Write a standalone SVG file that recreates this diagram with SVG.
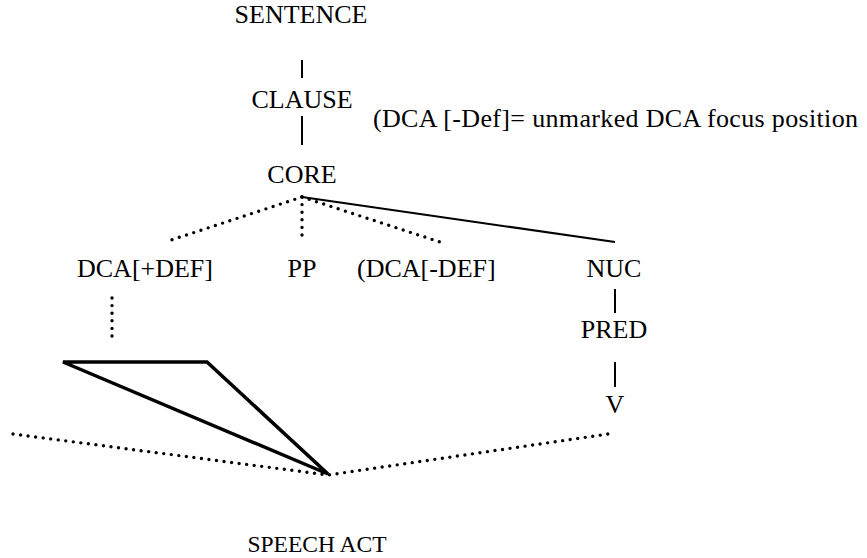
<svg xmlns="http://www.w3.org/2000/svg" width="867" height="558" viewBox="0 0 867 558">
  <style>
    text { font-family: "Liberation Serif", "Times New Roman", serif; font-size: 26px; fill: #000; }
    .c { text-anchor: middle; }
    .solid { stroke: #000; stroke-width: 2; fill: none; }
    .dot { stroke: #000; stroke-width: 3.4; fill: none; stroke-linecap: round; stroke-dasharray: 0 7.6; }
    .tri { stroke: #000; stroke-width: 3.5; fill: none; stroke-linejoin: miter; }
  </style>
  <rect width="867" height="558" fill="#fff"/>

  <!-- connectors -->
  <g id="connectors">
    <line class="solid" x1="302" y1="60" x2="302" y2="78"/>
    <line class="solid" x1="302" y1="116" x2="302" y2="145"/>
    <line class="dot" x1="302" y1="197" x2="165" y2="242"/>
    <line class="dot" x1="302" y1="197" x2="302" y2="237"/>
    <line class="dot" x1="302" y1="197" x2="440" y2="242"/>
    <line class="solid" x1="302" y1="197" x2="615" y2="242"/>
    <line class="dot" x1="112" y1="298" x2="112" y2="340"/>
    <line class="solid" x1="615" y1="289" x2="615" y2="313"/>
    <line class="solid" x1="615" y1="362" x2="615" y2="387"/>
    <polyline class="dot" points="13,434 328,475 615,433"/>
    <polygon class="tri" points="63,362 207,362 328,474"/>
  </g>

  <!-- nodes -->
  <g id="sentence"><text class="c" x="301" y="23">SENTENCE</text></g>
  <g id="clause"><text class="c" x="302" y="108">CLAUSE</text></g>
  <g id="note"><text x="373" y="127" textLength="485">(DCA [-Def]= unmarked DCA focus position</text></g>
  <g id="core"><text class="c" x="302" y="183">CORE</text></g>
  <g id="dca-def"><text class="c" x="145" y="277">DCA[+DEF]</text></g>
  <g id="pp"><text class="c" x="302" y="277">PP</text></g>
  <g id="dca-nodef"><text x="357" y="277">(DCA[-DEF]</text></g>
  <g id="nuc"><text class="c" x="614" y="277">NUC</text></g>
  <g id="pred"><text class="c" x="614" y="338">PRED</text></g>
  <g id="v"><text class="c" x="615" y="413">V</text></g>
  <g id="speech-act"><text class="c" x="317" y="552" style="font-size:23.5px">SPEECH ACT</text></g>
</svg>
